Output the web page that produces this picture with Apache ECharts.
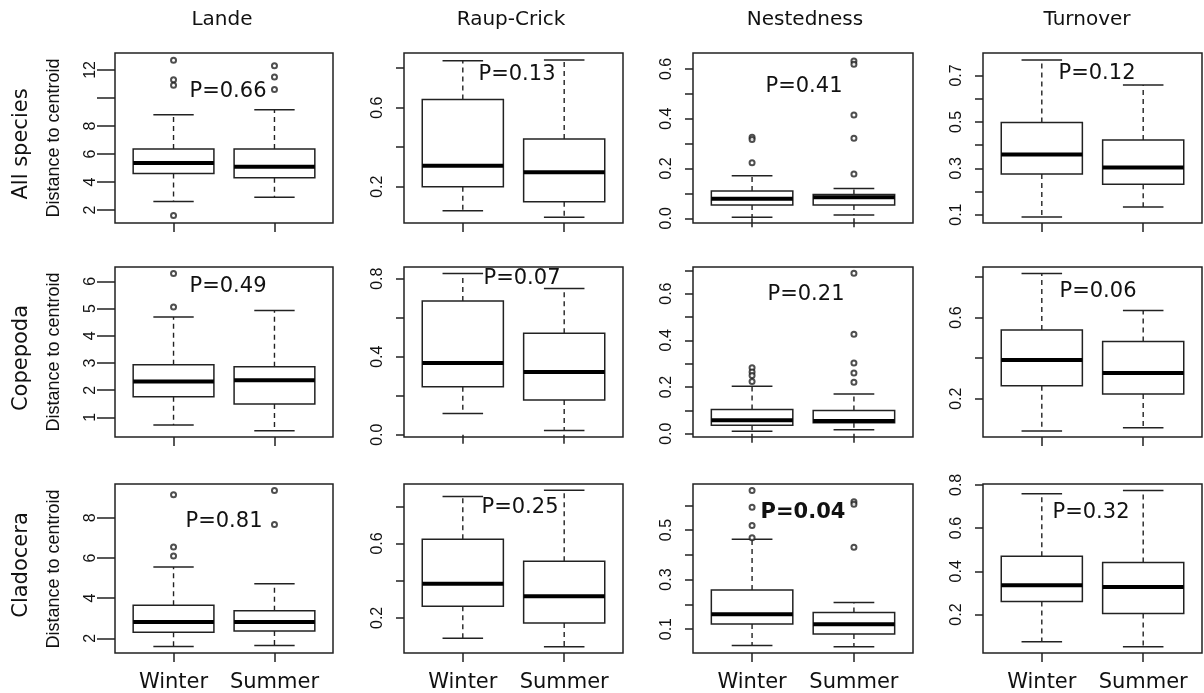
<!DOCTYPE html>
<html>
<head>
<meta charset="utf-8">
<script src="https://cdn.jsdelivr.net/npm/echarts@6/dist/echarts.min.js"></script>
<style>
  html, body { margin: 0; padding: 0; background: #fff; }
  #chart { width: 1204px; height: 693px; }
</style>
</head>
<body>
<div id="chart"></div>
<script>
const seasons = ['Winter', 'Summer']
const metrics = ['Lande', 'Raup-Crick', 'Nestedness', 'Turnover']
const groups = ['All species', 'Copepoda', 'Cladocera']

// box stats per metric: [min, Q1, median, Q3, max] for Winter, then Summer
const allSpeciesBoxes = [
  [[2.6, 4.6, 5.35, 6.35, 8.8], [2.9, 4.3, 5.08, 6.35, 9.15]],
  [[0.078, 0.2, 0.306, 0.641, 0.838], [0.045, 0.124, 0.273, 0.441, 0.842]],
  [[0.004, 0.053, 0.078, 0.110, 0.171], [0.013, 0.053, 0.084, 0.096, 0.120]],
  [[0.090, 0.275, 0.359, 0.497, 0.767], [0.133, 0.231, 0.303, 0.422, 0.659]]
]
const allSpeciesOutliers = [
  [[12.7, 11.3, 10.9, 1.6], [12.3, 11.5, 10.6]],
  [[], []],
  [[0.326, 0.316, 0.223], [0.632, 0.619, 0.415, 0.321, 0.178]],
  [[], []]
]
const copepodaBoxes = [
  [[0.72, 1.76, 2.32, 2.94, 4.69], [0.51, 1.49, 2.37, 2.86, 4.93]],
  [[0.108, 0.246, 0.368, 0.686, 0.827], [0.021, 0.178, 0.321, 0.520, 0.750]],
  [[0.011, 0.036, 0.058, 0.104, 0.203], [0.017, 0.047, 0.055, 0.100, 0.170]],
  [[0.041, 0.264, 0.391, 0.538, 0.817], [0.057, 0.223, 0.327, 0.482, 0.635]]
]
const copepodaOutliers = [
  [[6.29, 5.06], []],
  [[], []],
  [[0.283, 0.264, 0.249, 0.224], [0.687, 0.426, 0.303, 0.260, 0.220]],
  [[], []]
]
const cladoceraBoxes = [
  [[1.59, 2.30, 2.81, 3.65, 5.55], [1.64, 2.36, 2.81, 3.37, 4.71]],
  [[0.090, 0.263, 0.384, 0.623, 0.853], [0.045, 0.173, 0.316, 0.505, 0.886]],
  [[0.034, 0.121, 0.160, 0.258, 0.463], [0.029, 0.080, 0.120, 0.167, 0.207]],
  [[0.074, 0.260, 0.336, 0.470, 0.759], [0.051, 0.205, 0.327, 0.441, 0.774]]
]
const cladoceraOutliers = [
  [[9.15, 6.54, 6.10], [9.36, 7.66]],
  [[], []],
  [[0.660, 0.592, 0.518, 0.469], [0.614, 0.604, 0.431]],
  [[], []]
]

const pAllSpecies = [0.66, 0.13, 0.41, 0.12]
const pCopepoda = [0.49, 0.07, 0.21, 0.06]
const pCladocera = [0.81, 0.25, 0.04, 0.32]

// y axis: limits, tick values, labelled values
const yLimitsAll = [[1.07, 13.21], [0.016, 0.877], [-0.019, 0.664], [0.064, 0.797]]
const yTicksAll = [[2, 4, 6, 8, 10, 12], [0.2, 0.4, 0.6, 0.8], [0, 0.1, 0.2, 0.3, 0.4, 0.5, 0.6], [0.1, 0.2, 0.3, 0.4, 0.5, 0.6, 0.7]]
const yLabelsAll = [[2, 4, 6, 8, 12], [0.2, 0.6], [0, 0.2, 0.4, 0.6], [0.1, 0.3, 0.5, 0.7]]
const yLimitsCope = [[0.28, 6.53], [-0.012, 0.860], [-0.014, 0.714], [0.011, 0.849]]
const yTicksCope = [[1, 2, 3, 4, 5, 6], [0, 0.2, 0.4, 0.6, 0.8], [0, 0.1, 0.2, 0.3, 0.4, 0.5, 0.6, 0.7], [0.2, 0.4, 0.6, 0.8]]
const yLabelsCope = [[1, 2, 3, 4, 5, 6], [0, 0.4, 0.8], [0, 0.2, 0.4, 0.6], [0.2, 0.6]]
const yLimitsClad = [[1.27, 9.68], [0.011, 0.920], [0.0035, 0.686], [0.022, 0.804]]
const yTicksClad = [[2, 4, 6, 8], [0.2, 0.4, 0.6, 0.8], [0.1, 0.2, 0.3, 0.4, 0.5, 0.6], [0.2, 0.4, 0.6, 0.8]]
const yLabelsClad = [[2, 4, 6, 8], [0.2, 0.6], [0.1, 0.3, 0.5], [0.2, 0.4, 0.6, 0.8]]

const rows = [
  { boxes: allSpeciesBoxes, outliers: allSpeciesOutliers, p: pAllSpecies, lim: yLimitsAll, ticks: yTicksAll, labels: yLabelsAll },
  { boxes: copepodaBoxes, outliers: copepodaOutliers, p: pCopepoda, lim: yLimitsCope, ticks: yTicksCope, labels: yLabelsCope },
  { boxes: cladoceraBoxes, outliers: cladoceraOutliers, p: pCladocera, lim: yLimitsClad, ticks: yTicksClad, labels: yLabelsClad }
]

// layout (pixels)
const colLeft = [115, 404, 693, 983]
const colWidth = [218, 219, 220, 219]
const rowTop = [53, 267, 484]
const panelH = 170
const titleX = [222, 511, 805, 1087]
const rowLabelY = [144, 358, 565]
const pPos = [
  [[228, 92], [517, 75], [804, 87], [1097, 74]],
  [[228, 287], [522, 279], [806, 295], [1098, 292]],
  [[224, 522], [520, 508], [803, 513], [1091, 513]]
]

const INK = '#222'
const sans = 'DejaVu Sans'
const arial = 'Liberation Sans'

function renderBox(params, api) {
  const x = api.value(0)
  const py = v => api.coord([x, v])[1]
  const cx = api.coord([x, 0])[0]
  const half = api.coord([x + 0.4, 0])[0] - cx
  const cap = half / 2
  const yMin = py(api.value(1)), yQ1 = py(api.value(2)), yMed = py(api.value(3))
  const yQ3 = py(api.value(4)), yMax = py(api.value(5))
  const dash = { stroke: INK, lineWidth: 1.4, lineDash: [5, 4] }
  const solid = { stroke: INK, lineWidth: 1.5 }
  return {
    type: 'group',
    children: [
      { type: 'line', shape: { x1: cx, y1: yQ3, x2: cx, y2: yMax }, style: dash },
      { type: 'line', shape: { x1: cx, y1: yQ1, x2: cx, y2: yMin }, style: dash },
      { type: 'line', shape: { x1: cx - cap, y1: yMax, x2: cx + cap, y2: yMax }, style: solid },
      { type: 'line', shape: { x1: cx - cap, y1: yMin, x2: cx + cap, y2: yMin }, style: solid },
      { type: 'rect', shape: { x: cx - half, y: yQ3, width: half * 2, height: yQ1 - yQ3 }, style: { fill: '#fff', stroke: INK, lineWidth: 1.5 } },
      { type: 'line', shape: { x1: cx - half, y1: yMed, x2: cx + half, y2: yMed }, style: { stroke: '#000', lineWidth: 4 } }
    ]
  }
}

const grid = [], xAxis = [], yAxis = [], series = [], graphic = []

rows.forEach((row, r) => {
  metrics.forEach((m, c) => {
    const i = r * 4 + c
    const dec = c === 0 ? 0 : 1
    grid.push({ left: colLeft[c], top: rowTop[r], width: colWidth[c], height: panelH,
      show: true, borderColor: INK, borderWidth: 1.5, backgroundColor: 'transparent' })
    xAxis.push({
      gridIndex: i, type: 'value', min: 0.42, max: 2.58,
      axisLine: { show: false }, splitLine: { show: false },
      axisTick: { show: true, customValues: [1, 2], length: 9, lineStyle: { color: INK, width: 1.5 } },
      axisLabel: { show: r === 2, customValues: [1, 2], formatter: v => seasons[Math.round(v) - 1],
        margin: 19, fontFamily: sans, fontSize: 21, color: '#111' }
    })
    yAxis.push({
      gridIndex: i, type: 'value', min: row.lim[c][0], max: row.lim[c][1],
      axisLine: { show: false }, splitLine: { show: false },
      axisTick: { show: true, customValues: row.ticks[c], length: c === 0 ? 18 : 8, lineStyle: { color: INK, width: 1.5 } },
      axisLabel: { customValues: row.labels[c], rotate: 90, formatter: v => v.toFixed(dec),
        margin: c === 0 ? 16 : 18, fontFamily: arial, fontSize: 16, color: '#111' }
    })
    const b = row.boxes[c]
    series.push({
      type: 'custom', xAxisIndex: i, yAxisIndex: i, renderItem: renderBox,
      encode: { x: 0, y: [1, 2, 3, 4, 5] },
      data: [[1, ...b[0]], [2, ...b[1]]]
    })
    const o = row.outliers[c]
    series.push({
      type: 'scatter', xAxisIndex: i, yAxisIndex: i, z: 5,
      symbol: 'emptyCircle', symbolSize: 5,
      itemStyle: { color: INK, borderWidth: 1 },
      data: o[0].map(v => [1, v]).concat(o[1].map(v => [2, v]))
    })
    const pv = row.p[c]
    graphic.push({
      type: 'text', x: pPos[r][c][0], y: pPos[r][c][1], z: 10,
      style: { text: 'P=' + pv.toFixed(2), fill: '#111',
        font: (pv < 0.05 ? 'bold ' : '') + '21px "' + sans + '"',
        textAlign: 'center', textVerticalAlign: 'middle', align: 'center', verticalAlign: 'middle' }
    })
  })
})

metrics.forEach((m, c) => {
  graphic.push({ type: 'text', x: titleX[c], y: 20,
    style: { text: m, fill: '#111', font: '20px "' + sans + '"',
      textAlign: 'center', textVerticalAlign: 'middle', align: 'center', verticalAlign: 'middle' } })
})
groups.forEach((g, r) => {
  graphic.push({ type: 'text', x: 22, y: rowLabelY[r], rotation: Math.PI / 2,
    style: { text: g, fill: '#111', font: '21px "' + sans + '"',
      textAlign: 'center', textVerticalAlign: 'middle', align: 'center', verticalAlign: 'middle' } })
  graphic.push({ type: 'text', x: 54, y: rowTop[r] + panelH / 2, rotation: Math.PI / 2,
    style: { text: 'Distance to centroid', fill: '#111', font: '18px "' + arial + '"',
      textAlign: 'center', textVerticalAlign: 'middle', align: 'center', verticalAlign: 'middle' } })
})

const chart = echarts.init(document.getElementById('chart'), null, { renderer: 'canvas' })
chart.setOption({
  animation: false,
  backgroundColor: '#fff',
  grid, xAxis, yAxis, series, graphic
})
</script>
</body>
</html>
